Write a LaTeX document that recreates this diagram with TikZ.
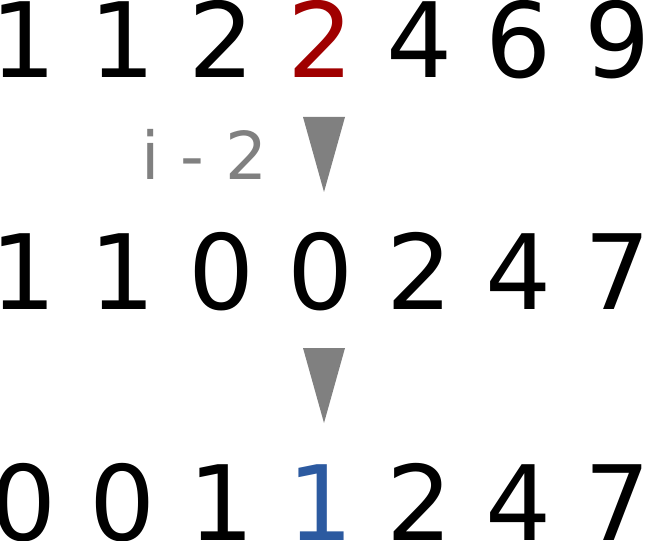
\documentclass[tikz,border=0pt]{standalone}
\usepackage{fontspec}
\setmainfont{DejaVu Sans}
\definecolor{hlred}{RGB}{160,0,0}
\definecolor{hlblue}{RGB}{44,90,160}
\definecolor{arrgray}{RGB}{128,128,128}
\begin{document}
\begin{tikzpicture}[x=1bp,y=-1bp,
  digit/.style={inner sep=0pt,anchor=base,font=\fontsize{104bp}{104bp}\selectfont},
  lbl/.style={inner sep=0pt,anchor=base east,text=arrgray,font=\fontsize{66bp}{66bp}\selectfont},
  tri/.style={fill=arrgray}]
\useasboundingbox (0,0) rectangle (648,541);
% row 1
\foreach \d [count=\k from 0] in {1,1,2,2,4,6,9}{
  \ifnum\k=3
    \node[digit,text=hlred] (a\k) at (24+99*\k,78) {\d};
  \else
    \node[digit] (a\k) at (24+99*\k,78) {\d};
  \fi
}
% row 2
\foreach \d [count=\k from 0] in {1,1,0,0,2,4,7}{
  \node[digit] (b\k) at (24+99*\k,309) {\d};
}
% row 3
\foreach \d [count=\k from 0] in {0,0,1,1,2,4,7}{
  \ifnum\k=3
    \node[digit,text=hlblue] (c\k) at (24+99*\k,540) {\d};
  \else
    \node[digit] (c\k) at (24+99*\k,540) {\d};
  \fi
}
\node[lbl] (lab) at (268,180) {i - 2};
\fill[tri] (303,117) -- (345,117) -- (324,192) -- cycle;
\fill[tri] (303,348) -- (345,348) -- (324,423) -- cycle;
\end{tikzpicture}
\end{document}
